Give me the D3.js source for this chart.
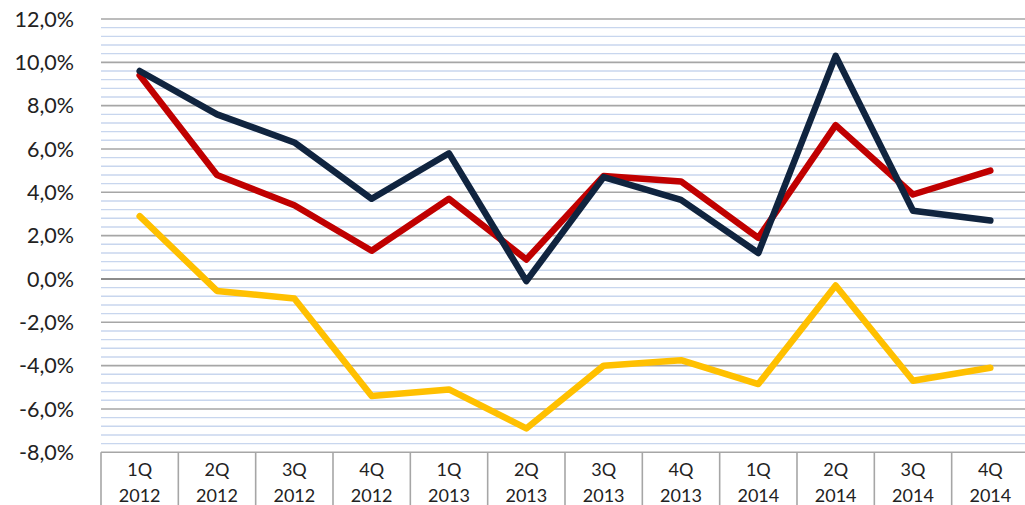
<!DOCTYPE html>
<html>
<head>
<meta charset="utf-8">
<script src="https://cdn.jsdelivr.net/npm/d3@7"></script>
<style>
  html, body { margin: 0; padding: 0; background: #fff; overflow: hidden; }
  svg { display: block; font-family: Lato, "Open Sans", sans-serif; }
</style>
</head>
<body>
<svg id="chart"></svg>
<script>
const quarters = ["1Q", "2Q", "3Q", "4Q", "1Q", "2Q", "3Q", "4Q", "1Q", "2Q", "3Q", "4Q"];
const years = ["2012", "2012", "2012", "2012", "2013", "2013", "2013", "2013", "2014", "2014", "2014", "2014"];
const categories = quarters.map((q, i) => q + " " + years[i]);

const navySeries = [9.6, 7.6, 6.3, 3.7, 5.8, -0.1, 4.7, 3.65, 1.2, 10.3, 3.15, 2.7];
const redSeries = [9.4, 4.8, 3.4, 1.3, 3.7, 0.9, 4.75, 4.5, 1.9, 7.1, 3.9, 5.0];
const yellowSeries = [2.9, -0.55, -0.9, -5.4, -5.1, -6.9, -4.0, -3.75, -4.85, -0.3, -4.7, -4.1];

const majorTicks = [12, 10, 8, 6, 4, 2, 0, -2, -4, -6, -8];

const W = 1025, H = 505;
const plotLeft = 101, plotRight = 1029, plotTop = 19, plotBottom = 452.3;

const svg = d3.select("#chart").attr("width", W).attr("height", H);

const x = d3.scaleBand().domain(categories).range([plotLeft, plotRight]).padding(0);
const y = d3.scaleLinear().domain([-8, 12]).range([plotBottom, plotTop]);

// minor gridlines every 0.4%
const minor = d3.range(-8, 12.001, 0.4).filter(v => Math.abs(v / 2 - Math.round(v / 2)) > 0.01);
svg.append("g").selectAll("line")
    .data(minor)
    .enter().append("line")
    .attr("x1", plotLeft).attr("x2", W)
    .attr("y1", d => y(d)).attr("y2", d => y(d))
    .attr("stroke", "#c8d6ee")
    .attr("stroke-width", 1.4);

// major gridlines
svg.append("g").selectAll("line")
    .data(majorTicks)
    .enter().append("line")
    .attr("x1", plotLeft).attr("x2", W)
    .attr("y1", d => y(d)).attr("y2", d => y(d))
    .attr("stroke", d => d === 0 ? "#8c8c8c" : "#a6a6a6")
    .attr("stroke-width", d => d === 0 ? 2.2 : 1.6);

// y labels
svg.append("g").selectAll("text")
    .data(majorTicks)
    .enter().append("text")
    .attr("x", 74)
    .attr("y", d => y(d))
    .attr("dy", "0.36em")
    .attr("text-anchor", "end")
    .style("font-size", "21.5px")
    .style("fill", "#222")
    .text(d => d.toFixed(1).replace(".", ",") + "%");

// category axis: separators
const seps = categories.map(c => x(c)).concat([plotRight]);
svg.append("g").selectAll("line")
    .data(seps)
    .enter().append("line")
    .attr("x1", d => d).attr("x2", d => d)
    .attr("y1", plotBottom).attr("y2", H)
    .attr("stroke", "#a6a6a6")
    .attr("stroke-width", 1.6);

const labels = svg.append("g").selectAll("text")
    .data(categories)
    .enter().append("text")
    .attr("text-anchor", "middle")
    .style("font-size", "18px")
    .style("fill", "#222");
labels.append("tspan")
    .attr("x", d => x(d) + x.bandwidth() / 2)
    .attr("y", 476)
    .text((d, i) => quarters[i]);
labels.append("tspan")
    .attr("x", d => x(d) + x.bandwidth() / 2)
    .attr("y", 501.5)
    .text((d, i) => years[i]);

// lines
const line = d3.line()
    .x((d, i) => x(categories[i]) + x.bandwidth() / 2)
    .y(d => y(d));

[[yellowSeries, "#ffc000"], [redSeries, "#c00000"], [navySeries, "#10243f"]].forEach(([s, c]) => {
    svg.append("path")
        .datum(s)
        .attr("d", line)
        .attr("fill", "none")
        .attr("stroke", c)
        .attr("stroke-width", 6.5)
        .attr("stroke-linejoin", "round")
        .attr("stroke-linecap", "round");
});
</script>
</body>
</html>
